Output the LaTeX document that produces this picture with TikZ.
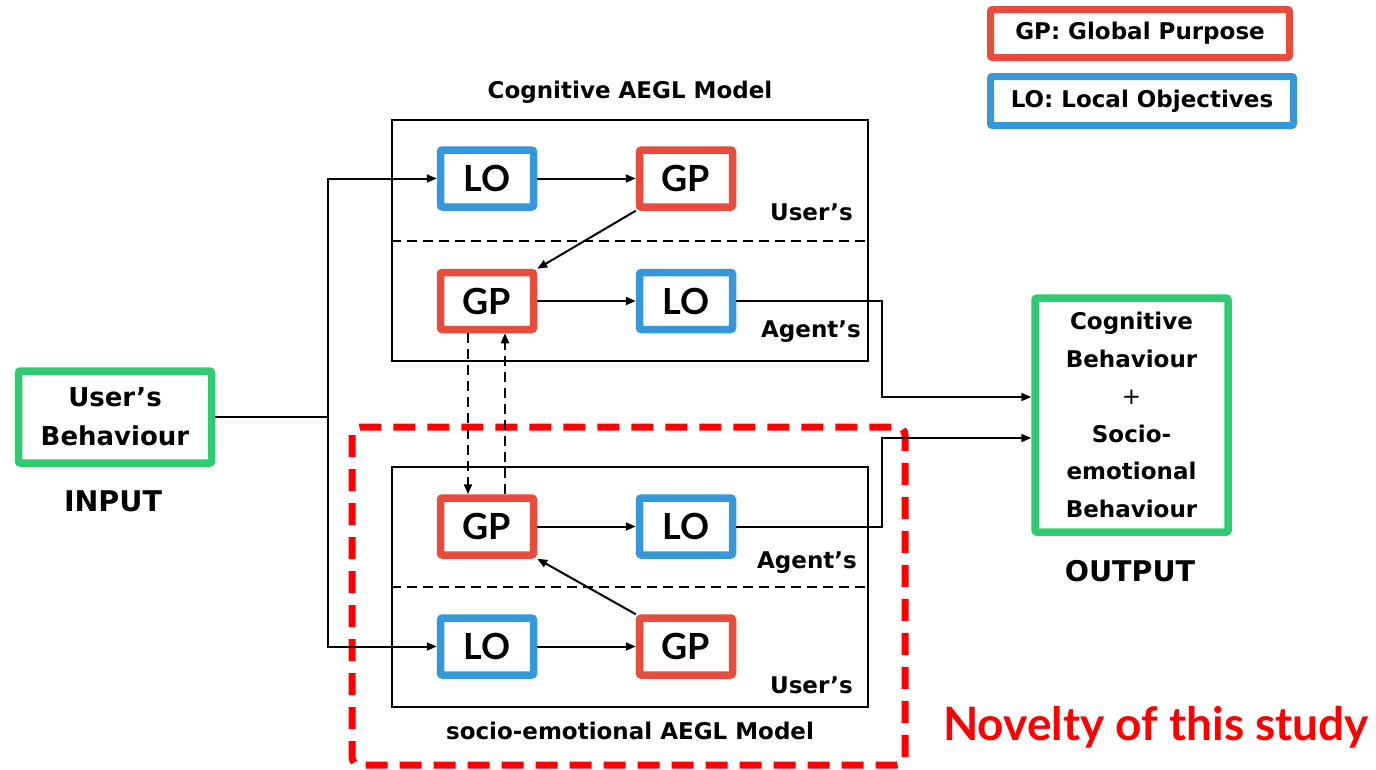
\documentclass[tikz,border=0pt]{standalone}
\usepackage{fontspec}
\setmainfont{DejaVu Sans}
\newfontfamily\latofont{Lato}
\usetikzlibrary{arrows.meta}
\definecolor{gpred}{RGB}{231,76,60}
\definecolor{loblue}{RGB}{52,152,219}
\definecolor{iogreen}{RGB}{46,204,113}
\definecolor{novred}{RGB}{255,0,0}
\tikzset{
  fs/.style={font=\bfseries\fontsize{#1}{#1}\selectfont},
  ls/.style={font=\latofont\bfseries\fontsize{#1}{#1}\selectfont},
  box/.style={draw, line width=7.5pt, rounded corners=2pt, minimum width=93pt,
    minimum height=57pt, inner sep=0pt, ls=36},
  gpbox/.style={box, draw=gpred},
  lobox/.style={box, draw=loblue},
  frame/.style={draw, line width=2.5pt, inner sep=0pt},
  iobox/.style={draw=iogreen, line width=7.5pt, rounded corners=2pt, inner sep=0pt, align=center},
  legbox/.style={line width=7pt, rounded corners=2pt, inner sep=0pt, fs=23},
  lab/.style={fs=23, anchor=east, inner sep=0pt},
  arr/.style={line width=2pt, -{Triangle[length=10pt,width=8pt]}},
  wire/.style={line width=2pt},
  dsh/.style={dash pattern=on 10pt off 6pt}
}
\begin{document}
\begin{tikzpicture}[x=1pt,y=-1pt]
\useasboundingbox (0,0) rectangle (1376,769);

% model frames
\node[frame, minimum width=476pt, minimum height=241pt] (cog) at (630,240.5) {};
\node[frame, minimum width=476pt, minimum height=240pt] (soc) at (630,587) {};
\draw[line width=2pt, dsh] (cog.west) -- (cog.east);
\draw[line width=2pt, dsh] (soc.west) -- (soc.east);
\node[fs=23] (cogt) at (630,92) {Cognitive AEGL Model};
\node[fs=23] (soct) at (630,731) {socio-emotional AEGL Model};

% highlight of the new part
\draw[novred, line width=7pt, rounded corners=8pt, dash pattern=on 22pt off 12pt]
  (352,427) rectangle (905,765);
\node[ls=46, text=novred] (nov) at (1156,727) {Novelty of this study};

% goal / objective boxes
\node[lobox] (lo1) at (487,178.5) {LO};
\node[gpbox] (gp1) at (686,178.5) {GP};
\node[gpbox] (gp2) at (487,301) {GP};
\node[lobox] (lo2) at (686,301) {LO};
\node[gpbox] (gp3) at (487,526.5) {GP};
\node[lobox] (lo3) at (686,526.5) {LO};
\node[lobox] (lo4) at (487,646.5) {LO};
\node[gpbox] (gp4) at (686,646.5) {GP};

% side labels
\node[lab] (cu) at (853,212) {User’s};
\node[lab] (ca) at (861,332) {Agent’s};
\node[lab] (sa) at (857,563) {Agent’s};
\node[lab] (su) at (853,685) {User’s};

% input and output
\node[iobox, minimum width=193pt, minimum height=92pt, fs=26] (in) at (115,417)
  {User’s\\[13pt]Behaviour};
\node[fs=28.5] (inl) at (113,501) {INPUT};
\node[iobox, minimum width=193pt, minimum height=234pt, fs=23] (out) at (1131.5,415)
  {Cognitive\\[14.5pt]Behaviour\\[14.5pt]{\mdseries +}\\[14.5pt]Socio-\\[14.5pt]emotional\\[14.5pt]Behaviour};
\node[fs=28.5] (outl) at (1130,571) {OUTPUT};

% legend
\node[legbox, draw=gpred, minimum width=299pt, minimum height=48pt] (lg1) at (1140,33.5)
  {GP: Global Purpose};
\node[legbox, draw=loblue, minimum width=303pt, minimum height=49pt] (lg2) at (1142,101)
  {LO: Local Objectives};

% connectors
\coordinate (j) at (328,417);
\draw[wire] (in.east) -- (j);
\draw[arr] (j) |- (lo1.west);
\draw[arr] (j) |- (lo4.west);
\draw[arr] (lo1) -- (gp1);
\draw[arr] (gp1.south west) -- (gp2.north east);
\draw[arr] (gp2) -- (lo2);
\draw[arr] (gp3) -- (lo3);
\draw[arr] (lo4) -- (gp4);
\draw[arr] (gp4.north west) -- (gp3.south east);
\draw[arr] (lo2.east) -- ++(146,0) |- ([yshift=18pt]out.west);
\draw[arr] (lo3.east) -- ++(146,0) |- ([yshift=-23pt]out.west);
\draw[arr, dsh] ([xshift=-19pt]gp2.south) -- ([xshift=-19pt]gp3.north);
\draw[arr, dsh] ([xshift=18pt]gp3.north) -- ([xshift=18pt]gp2.south);
\end{tikzpicture}
\end{document}
